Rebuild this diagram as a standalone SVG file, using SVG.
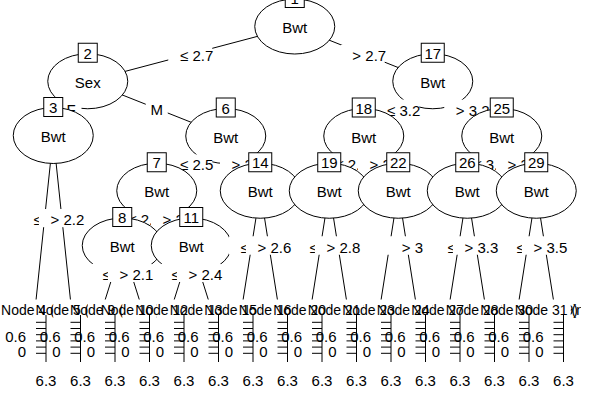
<svg xmlns="http://www.w3.org/2000/svg" xmlns:xlink="http://www.w3.org/1999/xlink" width="591" height="400" viewBox="0 0 591 400">
<style>
.ln{stroke:#000;stroke-width:1;fill:none}
.el{fill:#fff;stroke:#000;stroke-width:1}
.bx{fill:#fff;stroke:#000;stroke-width:1}
.bg{fill:#fff;stroke:none}
.t{font-family:"Liberation Sans",Arial,sans-serif;font-size:15px;fill:#000;text-anchor:middle}
.tt{font-family:"Liberation Sans",Arial,sans-serif;font-size:14px;fill:#000;text-anchor:middle}
.r{text-anchor:end}
</style>
<defs>
<path id="ax" class="ln" d="M0 315V362M-10 322.3H0M-10 328.5H0M-10 334.7H0M-10 340.9H0M-10 347.1H0M-10 353.3H0"/>
<clipPath id="clipR"><rect x="-20" y="0" width="601" height="400"/></clipPath>
</defs>
<rect x="0" y="0" width="591" height="400" fill="#fff"/>
<g id="connectors" class="ln">
<path d="M294.75 26.5L87.75 81.25M294.75 26.5L432.75 81.25"/>
<path d="M87.75 81.25L53.25 136M87.75 81.25L225.75 136"/>
<path d="M53.25 136L36 300.25M53.25 136L70.5 300.25"/>
<path d="M225.75 136L156.75 190.75M225.75 136L260.25 190.75"/>
<path d="M156.75 190.75L122.25 245.5M156.75 190.75L191.25 245.5"/>
<path d="M122.25 245.5L105 300.25M122.25 245.5L139.5 300.25"/>
<path d="M191.25 245.5L174 300.25M191.25 245.5L208.5 300.25"/>
<path d="M260.25 190.75L243 300.25M260.25 190.75L277.5 300.25"/>
<path d="M432.75 81.25L363.75 136M432.75 81.25L501.75 136"/>
<path d="M363.75 136L329.25 190.75M363.75 136L398.25 190.75"/>
<path d="M329.25 190.75L312 300.25M329.25 190.75L346.5 300.25"/>
<path d="M398.25 190.75L381 300.25M398.25 190.75L415.5 300.25"/>
<path d="M501.75 136L467.25 190.75M501.75 136L536.25 190.75"/>
<path d="M467.25 190.75L450 300.25M467.25 190.75L484.5 300.25"/>
<path d="M536.25 190.75L519 300.25M536.25 190.75L553.5 300.25"/>
</g>

<g id="node-1"><ellipse class="el" cx="294.75" cy="26.5" rx="40" ry="27.5"/><rect class="bx" x="285.25" y="-11.5" width="19" height="19"/><text class="t" x="294.75" y="4">1</text><text class="t" x="294.75" y="33">Bwt</text></g>
<g id="labels-1"><rect class="bg" x="168.25" y="44.9" width="44" height="18"/><text class="t" x="196.75" y="60.9">≤ 2.7</text><rect class="bg" x="340.75" y="44.9" width="44" height="18"/><text class="t" x="369.25" y="60.9">&gt; 2.7</text></g>

<g id="node-2"><ellipse class="el" cx="87.75" cy="81.25" rx="40" ry="27.5"/><rect class="bx" x="78.25" y="43.25" width="19" height="19"/><text class="t" x="87.75" y="58.75">2</text><text class="t" x="87.75" y="87.75">Sex</text></g>
<g id="labels-2"><rect class="bg" x="59.5" y="99.6" width="22" height="18"/><text class="t" x="71" y="114.5">F</text><rect class="bg" x="145.75" y="99.6" width="22" height="18"/><text class="t" x="156.75" y="115">M</text></g>

<g id="node-3"><ellipse class="el" cx="53.25" cy="135.5" rx="40" ry="28"/><rect class="bx" x="43.75" y="97.5" width="19" height="19"/><text class="t" x="53.25" y="113">3</text><text class="t" x="53.25" y="142">Bwt</text></g>
<g id="labels-3"><rect class="bg" x="21.6" y="209.1" width="44" height="18"/><text class="t" x="50.1" y="225.1">≤ 2.2</text><rect class="bg" x="38.9" y="209.1" width="44" height="18"/><text class="t" x="67.4" y="225.1">&gt; 2.2</text></g>
<g id="node-4"><rect class="bg" x="18.75" y="299.5" width="34.5" height="62.5"/><text class="tt" x="46" y="315" clip-path="url(#clipR)">Node 4 (n = 9)</text><use xlink:href="#ax" x="46"/><text class="t r" x="26" y="341.7">0.6</text><text class="t r" x="26" y="356.7">0</text><text class="t" x="46" y="385.5">6.3</text></g>
<g id="node-5"><rect class="bg" x="53.25" y="299.5" width="34.5" height="62.5"/><text class="tt" x="80.5" y="315" clip-path="url(#clipR)">Node 5 (n = 9)</text><use xlink:href="#ax" x="80.5"/><text class="t r" x="60.5" y="341.7">0.6</text><text class="t r" x="60.5" y="356.7">0</text><text class="t" x="80.5" y="385.5">6.3</text></g>

<g id="node-6"><ellipse class="el" cx="225.75" cy="136" rx="40" ry="27.5"/><rect class="bx" x="216.25" y="98" width="19" height="19"/><text class="t" x="225.75" y="113.5">6</text><text class="t" x="225.75" y="142.5">Bwt</text></g>
<g id="labels-6"><rect class="bg" x="168.25" y="154.4" width="44" height="18"/><text class="t" x="196.75" y="170.4">≤ 2.5</text><rect class="bg" x="220" y="154.4" width="44" height="18"/><text class="t" x="248.5" y="170.4">&gt; 2.5</text></g>

<g id="node-7"><ellipse class="el" cx="156.75" cy="190.75" rx="40" ry="27.5"/><rect class="bx" x="147.25" y="152.75" width="19" height="19"/><text class="t" x="156.75" y="168.25">7</text><text class="t" x="156.75" y="197.25">Bwt</text></g>
<g id="labels-7"><rect class="bg" x="116.5" y="209.1" width="44" height="18"/><text class="t" x="145" y="225.1">≤ 2.2</text><rect class="bg" x="151" y="209.1" width="44" height="18"/><text class="t" x="179.5" y="225.1">&gt; 2.2</text></g>

<g id="node-8"><ellipse class="el" cx="122.25" cy="245.5" rx="40" ry="27.5"/><rect class="bx" x="112.75" y="207.5" width="19" height="19"/><text class="t" x="122.25" y="223">8</text><text class="t" x="122.25" y="252">Bwt</text></g>
<g id="labels-8"><rect class="bg" x="90.6" y="263.9" width="44" height="18"/><text class="t" x="119.1" y="279.9">≤ 2.1</text><rect class="bg" x="107.9" y="263.9" width="44" height="18"/><text class="t" x="136.4" y="279.9">&gt; 2.1</text></g>
<g id="node-9"><rect class="bg" x="87.75" y="299.5" width="34.5" height="62.5"/><text class="tt" x="115" y="315" clip-path="url(#clipR)">Node 9 (n = 9)</text><use xlink:href="#ax" x="115"/><text class="t r" x="95" y="341.7">0.6</text><text class="t r" x="95" y="356.7">0</text><text class="t" x="115" y="385.5">6.3</text></g>
<g id="node-10"><rect class="bg" x="122.25" y="299.5" width="34.5" height="62.5"/><text class="tt" x="149.5" y="315" clip-path="url(#clipR)">Node 10 (n = 9)</text><use xlink:href="#ax" x="149.5"/><text class="t r" x="129.5" y="341.7">0.6</text><text class="t r" x="129.5" y="356.7">0</text><text class="t" x="149.5" y="385.5">6.3</text></g>

<g id="node-11"><ellipse class="el" cx="191.25" cy="245.5" rx="40" ry="27.5"/><rect class="bx" x="179.75" y="207.5" width="23" height="19"/><text class="t" x="191.25" y="223">11</text><text class="t" x="191.25" y="252">Bwt</text></g>
<g id="labels-11"><rect class="bg" x="159.6" y="263.9" width="44" height="18"/><text class="t" x="188.1" y="279.9">≤ 2.4</text><rect class="bg" x="176.9" y="263.9" width="44" height="18"/><text class="t" x="205.4" y="279.9">&gt; 2.4</text></g>
<g id="node-12"><rect class="bg" x="156.75" y="299.5" width="34.5" height="62.5"/><text class="tt" x="184" y="315" clip-path="url(#clipR)">Node 12 (n = 9)</text><use xlink:href="#ax" x="184"/><text class="t r" x="164" y="341.7">0.6</text><text class="t r" x="164" y="356.7">0</text><text class="t" x="184" y="385.5">6.3</text></g>
<g id="node-13"><rect class="bg" x="191.25" y="299.5" width="34.5" height="62.5"/><text class="tt" x="218.5" y="315" clip-path="url(#clipR)">Node 13 (n = 9)</text><use xlink:href="#ax" x="218.5"/><text class="t r" x="198.5" y="341.7">0.6</text><text class="t r" x="198.5" y="356.7">0</text><text class="t" x="218.5" y="385.5">6.3</text></g>

<g id="node-14"><ellipse class="el" cx="260.25" cy="190.75" rx="40" ry="27.5"/><rect class="bx" x="248.75" y="152.75" width="23" height="19"/><text class="t" x="260.25" y="168.25">14</text><text class="t" x="260.25" y="197.25">Bwt</text></g>
<g id="labels-14"><rect class="bg" x="228.6" y="236.5" width="44" height="18"/><text class="t" x="257.1" y="252.5">≤ 2.6</text><rect class="bg" x="245.9" y="236.5" width="44" height="18"/><text class="t" x="274.4" y="252.5">&gt; 2.6</text></g>
<g id="node-15"><rect class="bg" x="225.75" y="299.5" width="34.5" height="62.5"/><text class="tt" x="253" y="315" clip-path="url(#clipR)">Node 15 (n = 9)</text><use xlink:href="#ax" x="253"/><text class="t r" x="233" y="341.7">0.6</text><text class="t r" x="233" y="356.7">0</text><text class="t" x="253" y="385.5">6.3</text></g>
<g id="node-16"><rect class="bg" x="260.25" y="299.5" width="34.5" height="62.5"/><text class="tt" x="287.5" y="315" clip-path="url(#clipR)">Node 16 (n = 9)</text><use xlink:href="#ax" x="287.5"/><text class="t r" x="267.5" y="341.7">0.6</text><text class="t r" x="267.5" y="356.7">0</text><text class="t" x="287.5" y="385.5">6.3</text></g>

<g id="node-17"><ellipse class="el" cx="432.75" cy="81.25" rx="40" ry="27.5"/><rect class="bx" x="421.25" y="43.25" width="23" height="19"/><text class="t" x="432.75" y="58.75">17</text><text class="t" x="432.75" y="87.75">Bwt</text></g>
<g id="labels-17"><rect class="bg" x="375.25" y="99.6" width="44" height="18"/><text class="t" x="403.75" y="115.6">≤ 3.2</text><rect class="bg" x="444.25" y="99.6" width="44" height="18"/><text class="t" x="472.75" y="115.6">&gt; 3.2</text></g>

<g id="node-18"><ellipse class="el" cx="363.75" cy="136" rx="40" ry="27.5"/><rect class="bx" x="352.25" y="98" width="23" height="19"/><text class="t" x="363.75" y="113.5">18</text><text class="t" x="363.75" y="142.5">Bwt</text></g>
<g id="labels-18"><rect class="bg" x="323.5" y="154.4" width="44" height="18"/><text class="t" x="352" y="170.4">≤ 2.9</text><rect class="bg" x="358" y="154.4" width="44" height="18"/><text class="t" x="386.5" y="170.4">&gt; 2.9</text></g>

<g id="node-19"><ellipse class="el" cx="329.25" cy="190.75" rx="40" ry="27.5"/><rect class="bx" x="317.75" y="152.75" width="23" height="19"/><text class="t" x="329.25" y="168.25">19</text><text class="t" x="329.25" y="197.25">Bwt</text></g>
<g id="labels-19"><rect class="bg" x="297.6" y="236.5" width="44" height="18"/><text class="t" x="326.1" y="252.5">≤ 2.8</text><rect class="bg" x="314.9" y="236.5" width="44" height="18"/><text class="t" x="343.4" y="252.5">&gt; 2.8</text></g>
<g id="node-20"><rect class="bg" x="294.75" y="299.5" width="34.5" height="62.5"/><text class="tt" x="322" y="315" clip-path="url(#clipR)">Node 20 (n = 9)</text><use xlink:href="#ax" x="322"/><text class="t r" x="302" y="341.7">0.6</text><text class="t r" x="302" y="356.7">0</text><text class="t" x="322" y="385.5">6.3</text></g>
<g id="node-21"><rect class="bg" x="329.25" y="299.5" width="34.5" height="62.5"/><text class="tt" x="356.5" y="315" clip-path="url(#clipR)">Node 21 (n = 9)</text><use xlink:href="#ax" x="356.5"/><text class="t r" x="336.5" y="341.7">0.6</text><text class="t r" x="336.5" y="356.7">0</text><text class="t" x="356.5" y="385.5">6.3</text></g>

<g id="node-22"><ellipse class="el" cx="398.25" cy="190.75" rx="40" ry="27.5"/><rect class="bx" x="386.75" y="152.75" width="23" height="19"/><text class="t" x="398.25" y="168.25">22</text><text class="t" x="398.25" y="197.25">Bwt</text></g>
<g id="labels-22"><rect class="bg" x="366.6" y="236.5" width="44" height="18"/><text class="t" x="395.1" y="252.5">≤ 3</text><rect class="bg" x="383.9" y="236.5" width="44" height="18"/><text class="t" x="412.4" y="252.5">&gt; 3</text></g>
<g id="node-23"><rect class="bg" x="363.75" y="299.5" width="34.5" height="62.5"/><text class="tt" x="391" y="315" clip-path="url(#clipR)">Node 23 (n = 9)</text><use xlink:href="#ax" x="391"/><text class="t r" x="371" y="341.7">0.6</text><text class="t r" x="371" y="356.7">0</text><text class="t" x="391" y="385.5">6.3</text></g>
<g id="node-24"><rect class="bg" x="398.25" y="299.5" width="34.5" height="62.5"/><text class="tt" x="425.5" y="315" clip-path="url(#clipR)">Node 24 (n = 9)</text><use xlink:href="#ax" x="425.5"/><text class="t r" x="405.5" y="341.7">0.6</text><text class="t r" x="405.5" y="356.7">0</text><text class="t" x="425.5" y="385.5">6.3</text></g>

<g id="node-25"><ellipse class="el" cx="501.75" cy="136" rx="40" ry="27.5"/><rect class="bx" x="490.25" y="98" width="23" height="19"/><text class="t" x="501.75" y="113.5">25</text><text class="t" x="501.75" y="142.5">Bwt</text></g>
<g id="labels-25"><rect class="bg" x="461.5" y="154.4" width="44" height="18"/><text class="t" x="490" y="170.4">≤ 3.4</text><rect class="bg" x="496" y="154.4" width="44" height="18"/><text class="t" x="524.5" y="170.4">&gt; 3.4</text></g>

<g id="node-26"><ellipse class="el" cx="467.25" cy="190.75" rx="40" ry="27.5"/><rect class="bx" x="455.75" y="152.75" width="23" height="19"/><text class="t" x="467.25" y="168.25">26</text><text class="t" x="467.25" y="197.25">Bwt</text></g>
<g id="labels-26"><rect class="bg" x="435.6" y="236.5" width="44" height="18"/><text class="t" x="464.1" y="252.5">≤ 3.3</text><rect class="bg" x="452.9" y="236.5" width="44" height="18"/><text class="t" x="481.4" y="252.5">&gt; 3.3</text></g>
<g id="node-27"><rect class="bg" x="432.75" y="299.5" width="34.5" height="62.5"/><text class="tt" x="460" y="315" clip-path="url(#clipR)">Node 27 (n = 9)</text><use xlink:href="#ax" x="460"/><text class="t r" x="440" y="341.7">0.6</text><text class="t r" x="440" y="356.7">0</text><text class="t" x="460" y="385.5">6.3</text></g>
<g id="node-28"><rect class="bg" x="467.25" y="299.5" width="34.5" height="62.5"/><text class="tt" x="494.5" y="315" clip-path="url(#clipR)">Node 28 (n = 9)</text><use xlink:href="#ax" x="494.5"/><text class="t r" x="474.5" y="341.7">0.6</text><text class="t r" x="474.5" y="356.7">0</text><text class="t" x="494.5" y="385.5">6.3</text></g>

<g id="node-29"><ellipse class="el" cx="536.25" cy="190.75" rx="40" ry="27.5"/><rect class="bx" x="524.75" y="152.75" width="23" height="19"/><text class="t" x="536.25" y="168.25">29</text><text class="t" x="536.25" y="197.25">Bwt</text></g>
<g id="labels-29"><rect class="bg" x="504.6" y="236.5" width="44" height="18"/><text class="t" x="533.1" y="252.5">≤ 3.5</text><rect class="bg" x="521.9" y="236.5" width="44" height="18"/><text class="t" x="550.4" y="252.5">&gt; 3.5</text></g>
<g id="node-30"><rect class="bg" x="501.75" y="299.5" width="34.5" height="62.5"/><text class="tt" x="529" y="315" clip-path="url(#clipR)">Node 30 (n = 9)</text><use xlink:href="#ax" x="529"/><text class="t r" x="509" y="341.7">0.6</text><text class="t r" x="509" y="356.7">0</text><text class="t" x="529" y="385.5">6.3</text></g>
<g id="node-31"><rect class="bg" x="536.25" y="299.5" width="34.5" height="62.5"/><text class="tt" x="563.5" y="315" clip-path="url(#clipR)">Node 31 (n = 9)</text><use xlink:href="#ax" x="563.5"/><text class="t r" x="543.5" y="341.7">0.6</text><text class="t r" x="543.5" y="356.7">0</text><text class="t" x="563.5" y="385.5">6.3</text></g>
</svg>
